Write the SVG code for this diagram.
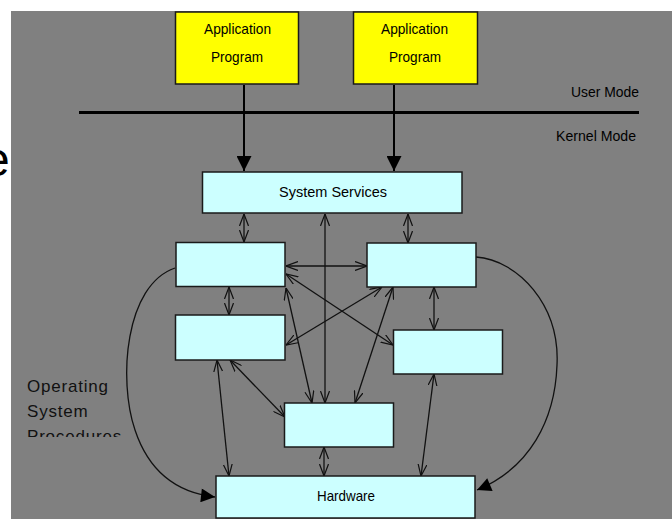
<svg xmlns="http://www.w3.org/2000/svg" width="672" height="519" viewBox="0 0 672 519">
<style>
.box{fill:#ccffff;stroke:#1a1a1a;stroke-width:1.5}
.app{fill:#ffff00;stroke:#1a1a1a;stroke-width:1.5}
.t{font-family:"Liberation Sans",Arial,sans-serif;font-size:15px;fill:#000}
.c{stroke:#111;stroke-width:1.3;fill:none;marker-start:url(#open);marker-end:url(#open)}
.v{stroke:#000;stroke-width:2;fill:none;marker-end:url(#solid)}
.cv{stroke:#111;stroke-width:1.3;fill:none;marker-end:url(#solidc)}
.os{font-family:"Liberation Sans",Arial,sans-serif;font-size:17px;fill:#111;letter-spacing:0.8px}
</style>
<defs>
<marker id="open" viewBox="0 0 12 10" refX="12" refY="5" markerWidth="12" markerHeight="10" markerUnits="userSpaceOnUse" orient="auto-start-reverse">
<path d="M0,0.5 L12,5 L0,9.5" fill="none" stroke="#111" stroke-width="1.2"/>
</marker>
<marker id="solid" viewBox="0 0 16 16" refX="16" refY="8" markerWidth="17" markerHeight="15" markerUnits="userSpaceOnUse" orient="auto">
<path d="M0,0 L16,8 L0,16 z" fill="#000"/>
</marker>
<marker id="solidc" viewBox="0 0 16 16" refX="16" refY="8" markerWidth="16" markerHeight="14" markerUnits="userSpaceOnUse" orient="auto">
<path d="M0,0 L16,8 L0,16 z" fill="#000"/>
</marker>
<clipPath id="osclip"><rect x="0" y="360" width="200" height="77"/></clipPath>
</defs>
<rect x="0" y="0" width="672" height="519" fill="#fff"/>
<rect x="11" y="11" width="661" height="508" fill="#808080"/>
<text x="-17" y="176" font-family="Liberation Sans,Arial,sans-serif" font-size="48" fill="#000">e</text>

<line x1="79" y1="112.5" x2="639" y2="112.5" stroke="#000" stroke-width="3"/>
<text class="t" x="571" y="97" textLength="68" lengthAdjust="spacingAndGlyphs">User Mode</text>
<text class="t" x="556" y="141" textLength="80" lengthAdjust="spacingAndGlyphs">Kernel Mode</text>

<g id="connectors">
<line class="v" x1="244" y1="85" x2="244" y2="171"/>
<line class="v" x1="394" y1="85" x2="394" y2="171"/>
<line class="c" x1="244" y1="214" x2="244" y2="242"/>
<line class="c" x1="408" y1="214" x2="408" y2="243"/>
<line class="c" x1="325" y1="214" x2="325" y2="403"/>
<line class="c" x1="286" y1="266" x2="367" y2="266"/>
<line class="c" x1="286" y1="274" x2="393" y2="345"/>
<line class="c" x1="286" y1="345" x2="382" y2="287"/>
<line class="c" x1="286" y1="288" x2="312" y2="403"/>
<line class="c" x1="393" y1="287" x2="355" y2="403"/>
<line class="c" x1="434" y1="287" x2="434" y2="330"/>
<line class="c" x1="229" y1="287" x2="229" y2="315"/>
<line class="c" x1="217" y1="360" x2="229" y2="476"/>
<line class="c" x1="230" y1="360" x2="285" y2="417"/>
<line class="c" x1="324" y1="447" x2="324" y2="476"/>
<line class="c" x1="434" y1="374" x2="421" y2="476"/>
<path class="cv" d="M175,268 C125,285 118,380 135,430 C150,475 180,493 215,497"/>
<path class="cv" d="M476,257 C518,260 560,305 557,365 C555,420 530,468 477,490"/>
</g>

<g id="app1"><rect class="app" x="175.5" y="12" width="123" height="72"/>
<text class="t" x="204" y="34" textLength="67" lengthAdjust="spacingAndGlyphs">Application</text>
<text class="t" x="211" y="62" textLength="52" lengthAdjust="spacingAndGlyphs">Program</text></g>
<g id="app2"><rect class="app" x="353.5" y="12" width="124" height="72"/>
<text class="t" x="381" y="34" textLength="67" lengthAdjust="spacingAndGlyphs">Application</text>
<text class="t" x="389" y="62" textLength="52" lengthAdjust="spacingAndGlyphs">Program</text></g>

<g id="services"><rect class="box" x="202.5" y="172" width="259.5" height="41"/>
<text class="t" x="279" y="197" textLength="108" lengthAdjust="spacingAndGlyphs">System Services</text></g>
<g id="procA"><rect class="box" x="176" y="242.5" width="109" height="44"/></g>
<g id="procB"><rect class="box" x="367" y="243" width="109" height="44"/></g>
<g id="procC"><rect class="box" x="175.5" y="315" width="109.5" height="45"/></g>
<g id="procD"><rect class="box" x="393.5" y="330" width="109" height="44"/></g>
<g id="procE"><rect class="box" x="284.5" y="403" width="109" height="44"/></g>
<g id="hardware"><rect class="box" x="216" y="476" width="259" height="42"/>
<text class="t" x="317" y="501" textLength="58" lengthAdjust="spacingAndGlyphs">Hardware</text></g>

<g id="os-label" clip-path="url(#osclip)">
<text class="os" x="27" y="392">Operating</text>
<text class="os" x="27" y="417">System</text>
<text class="os" x="27" y="442">Procedures</text>
</g>
</svg>
